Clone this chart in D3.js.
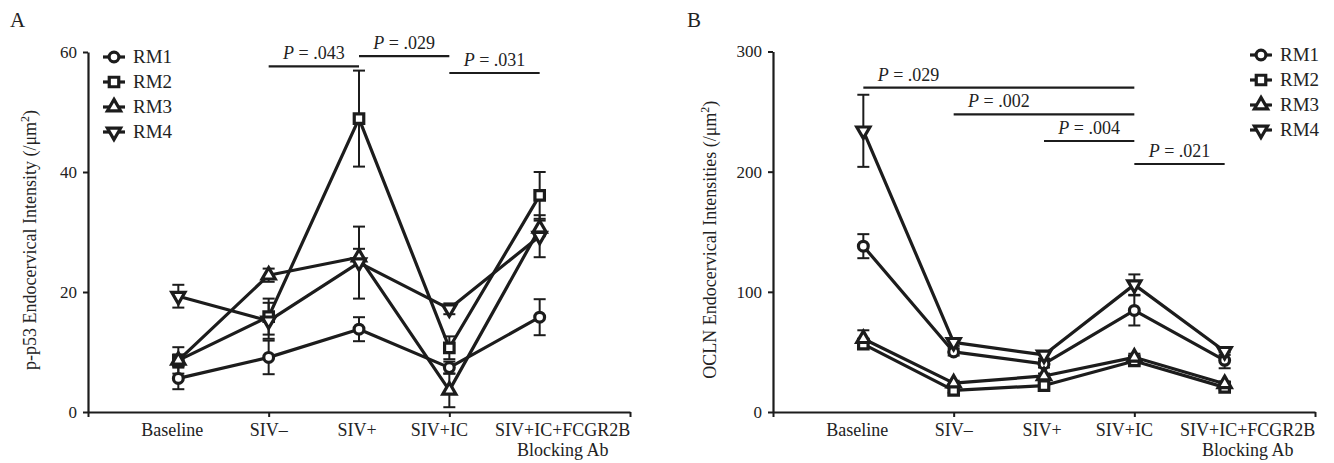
<!DOCTYPE html>
<html>
<head>
<meta charset="utf-8">
<script src="https://cdn.jsdelivr.net/npm/d3@7"></script>
<style>
  body { margin: 0; background: #fff; }
  svg text { fill: #222; }
</style>
</head>
<body>
<div id="chart"></div>
<script>
// Categories along the x axis
let groups = ['Baseline', 'SIV\u2013', 'SIV+', 'SIV+IC', 'SIV+IC+FCGR2B']
let seriesNames = ['RM1', 'RM2', 'RM3', 'RM4']

// Panel A: p-p53 endocervical intensity, mean and error per animal
let p53RM1 = [5.6, 9.1, 13.8, 7.4, 15.8]
let p53RM2 = [8.6, 15.9, 48.9, 10.7, 36.1]
let p53RM3 = [8.6, 22.8, 25.8, 3.6, 30.6]
let p53RM4 = [19.3, 15.2, 24.9, 17.2, 29.3]
let p53ErrRM1 = [1.8, 2.8, 2.0, 1.0, 3.0]
let p53ErrRM2 = [2.2, 3.0, 8.0, 1.9, 3.9]
let p53ErrRM3 = [1.0, 1.1, 1.4, 2.8, 1.3]
let p53ErrRM4 = [1.9, 3.0, 6.0, 0.9, 3.5]
let p53Ticks = [0, 20, 40, 60]
let p53Stats = [
  {p: '.043', from: 2, to: 3, level: 57.6},
  {p: '.029', from: 3, to: 4, level: 59.3},
  {p: '.031', from: 4, to: 5, level: 56.5},
]

// Panel B: OCLN endocervical intensities
let oclnRM1 = [138, 50, 40, 84.5, 43]
let oclnRM2 = [56.5, 18, 22, 42.5, 20.5]
let oclnRM3 = [61, 24, 30, 45.5, 23.5]
let oclnRM4 = [234, 58, 47.5, 106, 50.5]
let oclnErrRM1 = [10, 3, 3, 12.5, 6.6]
let oclnErrRM2 = [3, 2, 2, 3, 2]
let oclnErrRM3 = [7, 2, 2, 3, 2]
let oclnErrRM4 = [30, 3, 3, 8.5, 3]
let oclnTicks = [0, 100, 200, 300]
let oclnStats = [
  {p: '.029', from: 1, to: 4, level: 270},
  {p: '.002', from: 2, to: 4, level: 247.7},
  {p: '.004', from: 3, to: 4, level: 225.5},
  {p: '.021', from: 4, to: 5, level: 206.4},
]

// Layout
let width = 1334
let height = 463
let ink = '#1c1c1c'
let serif = '"Liberation Serif", "DejaVu Serif", serif'
let labelShift = [-6, 0, -2, -10, 23]
let symbolTypes = [
  {type: d3.symbolCircle, size: 75, rot: 0},
  {type: d3.symbolSquare, size: 90, rot: 0},
  {type: d3.symbolTriangle, size: 75, rot: 0},
  {type: d3.symbolTriangle, size: 75, rot: 180},
]

let svg = d3.select('#chart').append('svg')
  .attr('width', width)
  .attr('height', height)
  .style('font-family', serif)

drawPanel({
  letter: 'A', letterX: 10,
  x0: 88, x1: 630, yTop: 52, yBottom: 412,
  max: 60, ticks: p53Ticks,
  values: [p53RM1, p53RM2, p53RM3, p53RM4],
  errors: [p53ErrRM1, p53ErrRM2, p53ErrRM3, p53ErrRM4],
  stats: p53Stats,
  yLabel: 'p-p53 Endocervical Intensity (/\u03bcm', yLabelX: 36,
  legendX: 114, legendY: 57,
})

drawPanel({
  letter: 'B', letterX: 687,
  x0: 773, x1: 1315, yTop: 51.5, yBottom: 412,
  max: 300, ticks: oclnTicks,
  values: [oclnRM1, oclnRM2, oclnRM3, oclnRM4],
  errors: [oclnErrRM1, oclnErrRM2, oclnErrRM3, oclnErrRM4],
  stats: oclnStats,
  yLabel: 'OCLN Endocervical Intensities (/\u03bcm', yLabelX: 716,
  legendX: 1261, legendY: 55,
})

function drawPanel(cfg) {
  let g = svg.append('g')

  let x = d3.scaleLinear().domain([0, 6]).range([cfg.x0, cfg.x1])
  let y = d3.scaleLinear().domain([0, cfg.max]).range([cfg.yBottom, cfg.yTop])

  // Panel letter
  g.append('text')
    .attr('x', cfg.letterX)
    .attr('y', 27)
    .style('font-size', '21px')
    .text(cfg.letter)

  // Axes
  let yAxis = g.append('g')
    .attr('transform', `translate(${cfg.x0},0)`)
    .call(d3.axisLeft(y).tickValues(cfg.ticks).tickSize(5).tickPadding(6).tickSizeOuter(0))
  let xAxis = g.append('g')
    .attr('transform', `translate(0,${cfg.yBottom})`)
    .call(d3.axisBottom(x).tickValues([0, 2, 4, 6]).tickSize(5).tickFormat('').tickSizeOuter(0))

  ;[yAxis, xAxis].forEach(function(a) {
    a.attr('font-family', serif)
    a.select('.domain').attr('stroke', ink).attr('stroke-width', 2.2)
    a.selectAll('.tick line').attr('stroke', ink).attr('stroke-width', 2)
  })
  yAxis.selectAll('.tick text')
    .style('font-family', serif)
    .style('font-size', '17px')
    .attr('fill', '#333')

  // Category labels
  groups.forEach(function(name, i) {
    g.append('text')
      .attr('x', x(i + 1) + labelShift[i])
      .attr('y', 436)
      .attr('text-anchor', 'middle')
      .style('font-size', '18px')
      .text(name)
    if (i == 4) {
      g.append('text')
        .attr('x', x(i + 1) + labelShift[i])
        .attr('y', 456)
        .attr('text-anchor', 'middle')
        .style('font-size', '18px')
        .text('Blocking Ab')
    }
  })

  // Y axis title
  let yl = g.append('text')
    .attr('transform', `translate(${cfg.yLabelX},${(cfg.yTop + cfg.yBottom) / 2 + 8}) rotate(-90)`)
    .attr('text-anchor', 'middle')
    .style('font-size', '18px')
  yl.append('tspan').text(cfg.yLabel)
  yl.append('tspan').attr('dy', -7).style('font-size', '12px').text('2')
  yl.append('tspan').attr('dy', 7).text(')')

  // Significance bars
  cfg.stats.forEach(function(s) {
    g.append('line')
      .attr('x1', x(s.from))
      .attr('x2', x(s.to))
      .attr('y1', y(s.level))
      .attr('y2', y(s.level))
      .attr('stroke', ink)
      .attr('stroke-width', 2.2)
    let t = g.append('text')
      .attr('x', x(s.from + 0.5))
      .attr('y', y(s.level) - 7)
      .attr('text-anchor', 'middle')
      .style('font-size', '18px')
    t.append('tspan').style('font-style', 'italic').text('P')
    t.append('tspan').text(' = ' + s.p)
  })

  let line = d3.line()
    .x(function(d, i) { return x(i + 1) })
    .y(function(d) { return y(d) })

  // Connecting lines
  cfg.values.forEach(function(vals) {
    g.append('path')
      .datum(vals)
      .attr('d', line)
      .attr('fill', 'none')
      .attr('stroke', ink)
      .attr('stroke-width', 3.2)
      .attr('stroke-linejoin', 'round')
  })

  // Error bars
  cfg.values.forEach(function(vals, k) {
    vals.forEach(function(v, i) {
      let e = cfg.errors[k][i]
      let cx = x(i + 1)
      let eg = g.append('g')
        .attr('stroke', ink)
        .attr('stroke-width', 2)
      eg.append('line')
        .attr('x1', cx).attr('x2', cx)
        .attr('y1', y(v - e)).attr('y2', y(v + e))
      ;[v - e, v + e].forEach(function(c) {
        eg.append('line')
          .attr('x1', cx - 6).attr('x2', cx + 6)
          .attr('y1', y(c)).attr('y2', y(c))
      })
    })
  })

  // Markers
  cfg.values.forEach(function(vals, k) {
    let sym = symbolTypes[k]
    g.append('g').selectAll('path')
      .data(vals)
      .enter().append('path')
      .attr('d', d3.symbol().type(sym.type).size(sym.size))
      .attr('transform', function(d, i) { return `translate(${x(i + 1)},${y(d)}) rotate(${sym.rot})` })
      .attr('fill', '#fff')
      .attr('stroke', ink)
      .attr('stroke-width', 3.2)
  })

  // Legend
  seriesNames.forEach(function(name, k) {
    let sym = symbolTypes[k]
    let ly = cfg.legendY + k * 25
    g.append('line')
      .attr('x1', cfg.legendX - 11).attr('x2', cfg.legendX + 11)
      .attr('y1', ly).attr('y2', ly)
      .attr('stroke', ink)
      .attr('stroke-width', 3.2)
    g.append('path')
      .attr('d', d3.symbol().type(sym.type).size(sym.size))
      .attr('transform', `translate(${cfg.legendX},${ly}) rotate(${sym.rot})`)
      .attr('fill', '#fff')
      .attr('stroke', ink)
      .attr('stroke-width', 3.2)
    g.append('text')
      .attr('x', cfg.legendX + 19)
      .attr('y', ly + 6)
      .style('font-size', '19px')
      .text(name)
  })
}
</script>
</body>
</html>
